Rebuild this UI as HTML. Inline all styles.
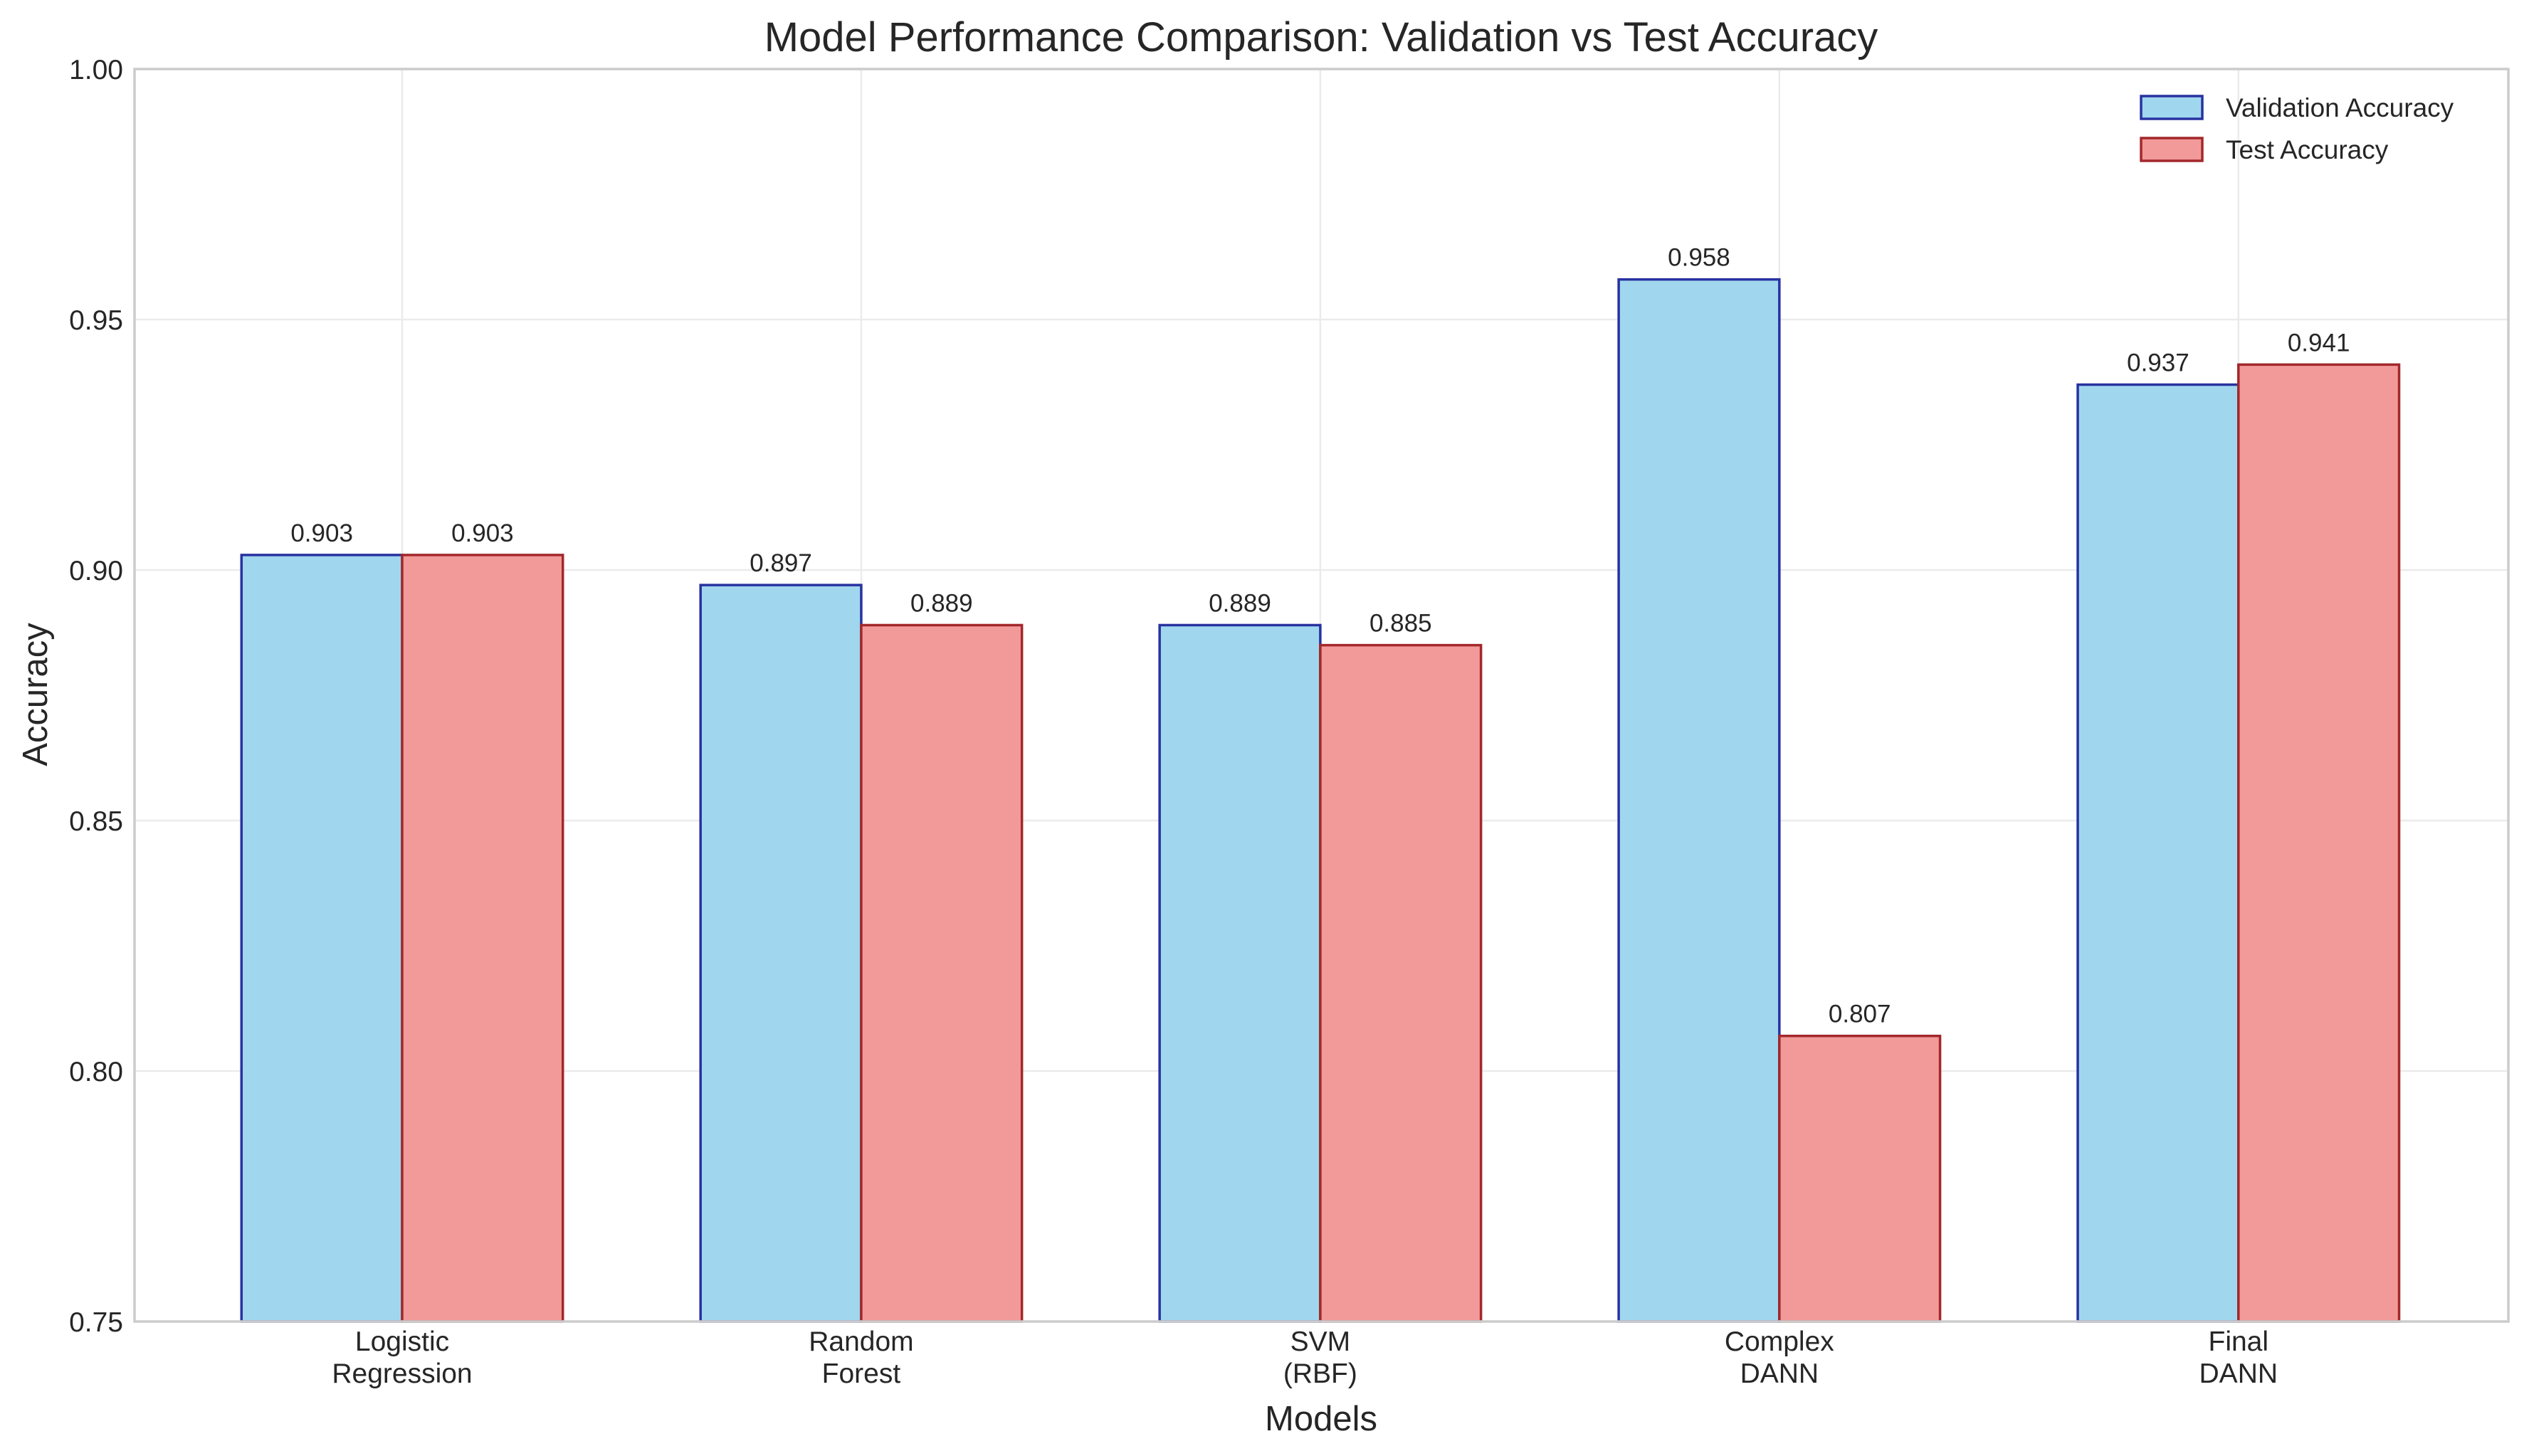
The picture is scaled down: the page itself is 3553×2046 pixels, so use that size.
<!DOCTYPE html>
<html><head><meta charset="utf-8"><style>
html,body{margin:0;padding:0;background:#fff;}
svg{display:block;font-family:"Liberation Sans",Arial,sans-serif;}
</style></head><body>
<svg id="chart" width="3553" height="2046" viewBox="0 0 3553 2046" xmlns="http://www.w3.org/2000/svg">
<rect x="0" y="0" width="3553" height="2046" fill="#fff"/>
<g id="grid"></g>
<g id="bars"></g>
<g id="labels"></g>
<rect x="189" y="97" width="3335" height="1760" fill="none" stroke="#cccccc" stroke-width="3.5"/>
<g id="yticks"></g>
<g id="xticks"></g>
<text x="1856" y="72" text-anchor="middle" font-size="58" fill="#262626">Model Performance Comparison: Validation vs Test Accuracy</text>
<text x="1856" y="2010" text-anchor="middle" font-size="49" fill="#262626">Models</text>
<text x="66" y="976" text-anchor="middle" font-size="49" fill="#262626" transform="rotate(-90 66 976)">Accuracy</text>
<g>
<g>
<rect x="3008" y="135" width="86" height="32" fill="#a0d7ee" stroke="#2832a0" stroke-width="3.5"/>
<text x="3127" y="164" font-size="37" fill="#262626">Validation Accuracy</text>
</g>
<g>
<rect x="3008" y="194" width="86" height="32" fill="#f29a9a" stroke="#a3282b" stroke-width="3.5"/>
<text x="3127" y="223" font-size="37" fill="#262626">Test Accuracy</text>
</g>
</g>
</svg>
<script>
const categories = [["Logistic","Regression"],["Random","Forest"],["SVM","(RBF)"],["Complex","DANN"],["Final","DANN"]];
const validation = [0.903, 0.897, 0.889, 0.958, 0.937];
const test = [0.903, 0.889, 0.885, 0.807, 0.941];
const yTicks = [0.75, 0.80, 0.85, 0.90, 0.95, 1.00];
const yTickLabels = ["0.75","0.80","0.85","0.90","0.95","1.00"];

const NS = "http://www.w3.org/2000/svg";
const PL = 189, PR = 3524, PT = 97, PB = 1857;
const X0 = -0.583, X1 = 4.588, Y0 = 0.75, Y1 = 1.0;
const xs = v => PL + (v - X0) / (X1 - X0) * (PR - PL);
const ys = v => PB - (v - Y0) / (Y1 - Y0) * (PB - PT);
const BW = 0.35;
function mk(tag, attrs, parent) {
  const e = document.createElementNS(NS, tag);
  for (const k in attrs) e.setAttribute(k, attrs[k]);
  parent.appendChild(e);
  return e;
}
const grid = document.getElementById('grid');
const bars = document.getElementById('bars');
const labels = document.getElementById('labels');
const yt = document.getElementById('yticks');
const xt = document.getElementById('xticks');

yTicks.forEach((t, i) => {
  const y = ys(t);
  const l = mk('line', {x1: PL, x2: PR, y1: y, y2: y, stroke: '#ebebeb', 'stroke-width': 2.5}, grid);
  
  
  const tx = mk('text', {x: 173, y: y + 14, 'text-anchor': 'end', 'font-size': 39, fill: '#262626'}, yt);
  tx.textContent = yTickLabels[i];
  
  
});

categories.forEach((c, i) => {
  const x = xs(i);
  const l = mk('line', {x1: x, x2: x, y1: PT, y2: PB, stroke: '#ebebeb', 'stroke-width': 2.5}, grid);
  
  
  c.forEach((line, j) => {
    const tx = mk('text', {x: x, y: 1898 + j * 45, 'text-anchor': 'middle', 'font-size': 39, fill: '#262626'}, xt);
    tx.textContent = line;
    
    
  });
  [[validation[i], -BW, '#a0d7ee', '#2832a0', 'validation'], [test[i], 0, '#f29a9a', '#a3282b', 'test']].forEach(([v, off, fill, stroke, nm]) => {
    const xl = xs(i + off), xr = xs(i + off + BW);
    const yt0 = ys(v);
    const r = mk('rect', {x: xl, y: yt0, width: xr - xl, height: PB - yt0, fill: fill, stroke: stroke, 'stroke-width': 3.5}, bars);
    
    
    const t = mk('text', {x: (xl + xr) / 2, y: yt0 - 19, 'text-anchor': 'middle', 'font-size': 35, fill: '#262626'}, labels);
    t.textContent = v.toFixed(3);
    
    
  });
});
</script>
</body></html>
